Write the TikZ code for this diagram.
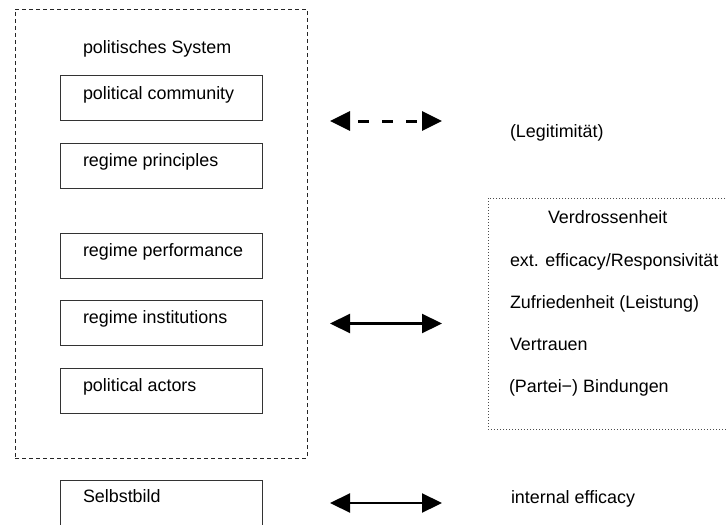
\documentclass[tikz,border=0pt]{standalone}
\usepackage{fontspec}
\setmainfont{Liberation Sans}
\usetikzlibrary{arrows.meta,calc}
\begin{document}
\begin{tikzpicture}[x=1pt,y=-1pt,
  every node/.style={inner sep=0pt, outer sep=0pt},
  txt/.style={anchor=base west, font=\fontsize{17.9pt}{20pt}\selectfont},
  box/.style={draw=black!80, line width=0.9pt, minimum width=202pt, minimum height=45pt, anchor=north west},
  sysbox/.style={draw=black!85, line width=0.9pt, dash pattern=on 4pt off 3pt, anchor=north west},
  dotbox/.style={draw=black!70, line width=0.9pt, dash pattern=on 0.9pt off 2.1pt},
  solidarrow/.style={line width=2.2pt, {Triangle[length=20pt,width=19pt]}-{Triangle[length=20pt,width=19pt]}},
  dasharrow/.style={line width=3pt, dash pattern=on 11pt off 13pt, dash phase=15pt, {Triangle[length=20pt,width=19pt]}-{Triangle[length=20pt,width=19pt]}}
]
\useasboundingbox (0,0) rectangle (727,524);
\clip (0,0) rectangle (727,524);

% outer dashed system box
\node[sysbox, minimum width=292pt, minimum height=449pt] (sys) at (15,9) {};
\node[txt] (systitle) at (83,53.5) {politisches System};

% inner boxes
\node[box] (pc) at (60,75) {};
\node[txt] (pct) at (83,99.3) {political community};
\node[box] (rp) at (60,143) {};
\node[txt] (rpt) at (83,166.7) {regime principles};
\node[box] (rperf) at (60,233) {};
\node[txt] (rperft) at (83,256) {regime performance};
\node[box] (ri) at (60,300) {};
\node[txt] (rit) at (83,323) {regime institutions};
\node[box] (pa) at (60,368) {};
\node[txt] (pat) at (83,391) {political actors};
\node[box] (sb) at (60,480) {};
\node[txt] (sbt) at (83,502.5) {Selbstbild};

% dotted box on the right
\draw[dotbox] (488,198) rectangle (740,429);
\node[txt] (verd) at (548,223.3) {Verdrossenheit};
\node[txt] (ext) at (510,266) {ext. efficacy/Responsivität};
\node[txt] (zuf) at (510,308.3) {Zufriedenheit (Leistung)};
\node[txt] (vert) at (510,350.3) {Vertrauen};
\node[txt] (bind) at (509,392.5) {(Partei−) Bindungen};

\node[txt] (legit) at (510,137.7) {(Legitimität)};
\node[txt] (intl) at (511,503) {internal efficacy};

% arrows
\coordinate (a1l) at (330,121);
\coordinate (a1r) at (442,121);
\coordinate (a2l) at (330,323.5);
\coordinate (a2r) at (442,323.5);
\coordinate (a3l) at (330,503);
\coordinate (a3r) at (442,503);
\draw[dasharrow] (a1l) -- (a1r);
\draw[solidarrow] (a2l) -- (a2r);
\draw[solidarrow] (a3l) -- (a3r);
\end{tikzpicture}
\end{document}
